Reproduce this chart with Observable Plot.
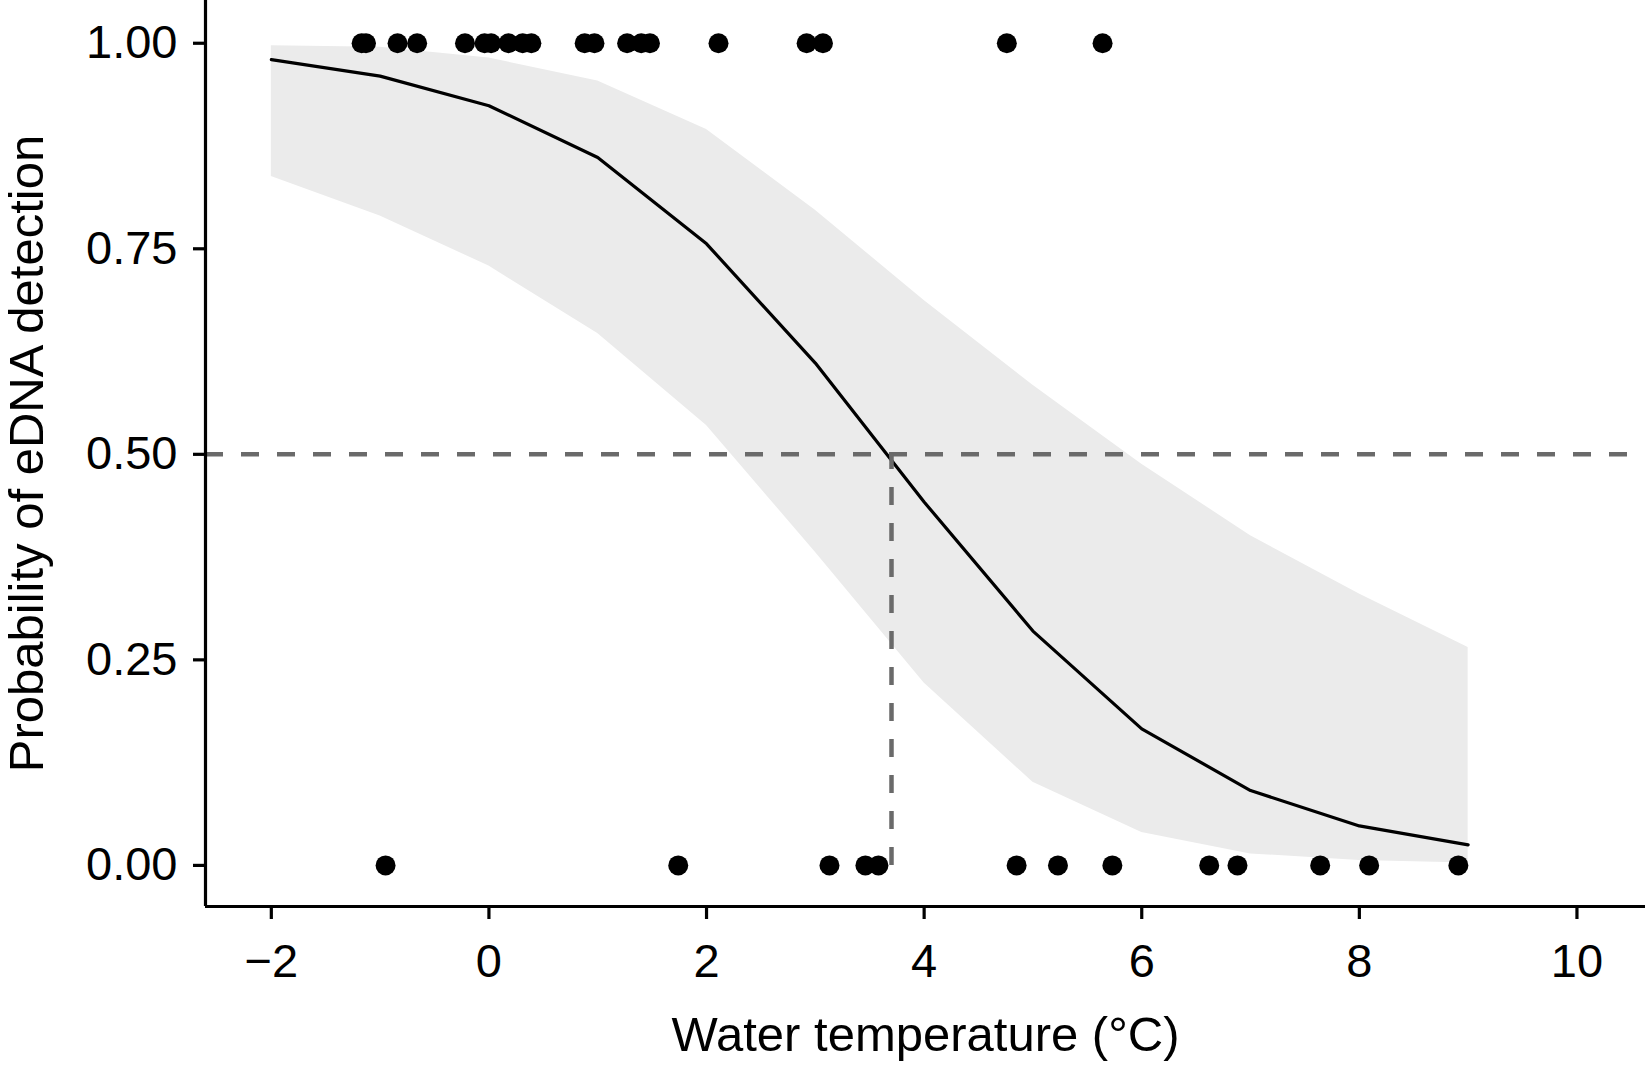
<!DOCTYPE html>
<html>
<head>
<meta charset="utf-8">
<script src="https://cdn.jsdelivr.net/npm/d3@7"></script>
<script src="https://cdn.jsdelivr.net/npm/@observablehq/plot@0.6"></script>
<style>
  html, body { margin: 0; padding: 0; background: #ffffff; }
</style>
</head>
<body>
<div id="chart"></div>
<script>
// Fitted logistic curve and its confidence band at integer temperatures
const tempGrid = [-2, -1, 0, 1, 2, 3, 4, 5, 6, 7, 8, 9];
const fitProb  = [0.980, 0.960, 0.924, 0.861, 0.756, 0.611, 0.442, 0.285, 0.166, 0.091, 0.048, 0.025];
const upperCI  = [0.997, 0.995, 0.982, 0.954, 0.895, 0.797, 0.687, 0.584, 0.488, 0.401, 0.330, 0.265];
const lowerCI  = [0.838, 0.790, 0.729, 0.647, 0.535, 0.381, 0.222, 0.101, 0.040, 0.014, 0.006, 0.003];

// Observed samples: temperatures with detection (1) and without (0)
const detectedTemps = [-1.17, -1.13, -0.84, -0.66, -0.22, -0.04, 0.02, 0.18, 0.31, 0.39,
                       0.88, 0.97, 1.27, 1.40, 1.48, 2.11, 2.92, 3.07, 4.76, 5.64];
const notDetectedTemps = [-0.95, 1.74, 3.13, 3.46, 3.58, 4.85, 5.23, 5.73, 6.62, 6.88, 7.64, 8.09, 8.91];

// Temperature at which detection probability is 0.5
const threshold = 3.70;
const thresholdProb = 0.5;

const xTicks = [-2, 0, 2, 4, 6, 8, 10];
const yTicks = [0, 0.25, 0.5, 0.75, 1];
const xLabel = "Water temperature (°C)";
const yLabel = "Probability of eDNA detection";

const curve = tempGrid.map((t, i) => ({t, p: fitProb[i], lo: lowerCI[i], hi: upperCI[i]}));
const samples = [
  ...detectedTemps.map(t => ({t, d: 1})),
  ...notDetectedTemps.map(t => ({t, d: 0}))
];

const xMin = -2.605, xMax = 10.63, yMin = -0.05, yMax = 1.052;
const font = "'Liberation Sans', Arial, Helvetica, sans-serif";

const chart = Plot.plot({
  width: 1645,
  height: 1066,
  marginLeft: 205,
  marginRight: 0,
  marginTop: 0,
  marginBottom: 160,
  x: {domain: [xMin, xMax]},
  y: {domain: [yMin, yMax]},
  style: {fontFamily: font, fontSize: "47px", color: "black", background: "white", overflow: "visible"},
  marks: [
    Plot.areaY(curve, {x: "t", y1: "lo", y2: "hi", fill: "#ebebeb"}),
    Plot.lineY(curve, {x: "t", y: "p", stroke: "black", strokeWidth: 3.2}),
    Plot.dot(samples, {x: "t", y: "d", r: 10, fill: "black", stroke: "none"}),
    Plot.ruleY([thresholdProb], {stroke: "#6a6a6a", strokeWidth: 4.5, strokeDasharray: "18,18"}),
    Plot.ruleX([threshold], {y1: 0, y2: thresholdProb, stroke: "#6a6a6a", strokeWidth: 4.5, strokeDasharray: "18,18"}),
    // axis lines (left and bottom)
    Plot.ruleX([xMin], {stroke: "black", strokeWidth: 3.2}),
    Plot.ruleY([yMin], {stroke: "black", strokeWidth: 3.2}),
    Plot.axisX({
      ticks: xTicks, tickSize: 13, tickPadding: 24, strokeWidth: 3.2, fontSize: 47,
      tickFormat: d => d < 0 ? "\u2212" + Math.abs(d) : String(d), label: null
    }),
    Plot.axisY({
      ticks: yTicks, tickSize: 12, tickPadding: 16, strokeWidth: 3.2, fontSize: 47,
      tickFormat: d3.format(".2f"), label: null
    }),
    Plot.text([xLabel], {text: d => d, frameAnchor: "bottom", textAnchor: "middle", lineAnchor: "top", dy: 110, fontSize: 49, fill: "black"}),
    Plot.text([yLabel], {text: d => d, frameAnchor: "left", textAnchor: "middle", rotate: -90, dx: -178, fontSize: 49, fill: "black"})
  ]
});

document.getElementById("chart").appendChild(chart);
</script>
</body>
</html>
